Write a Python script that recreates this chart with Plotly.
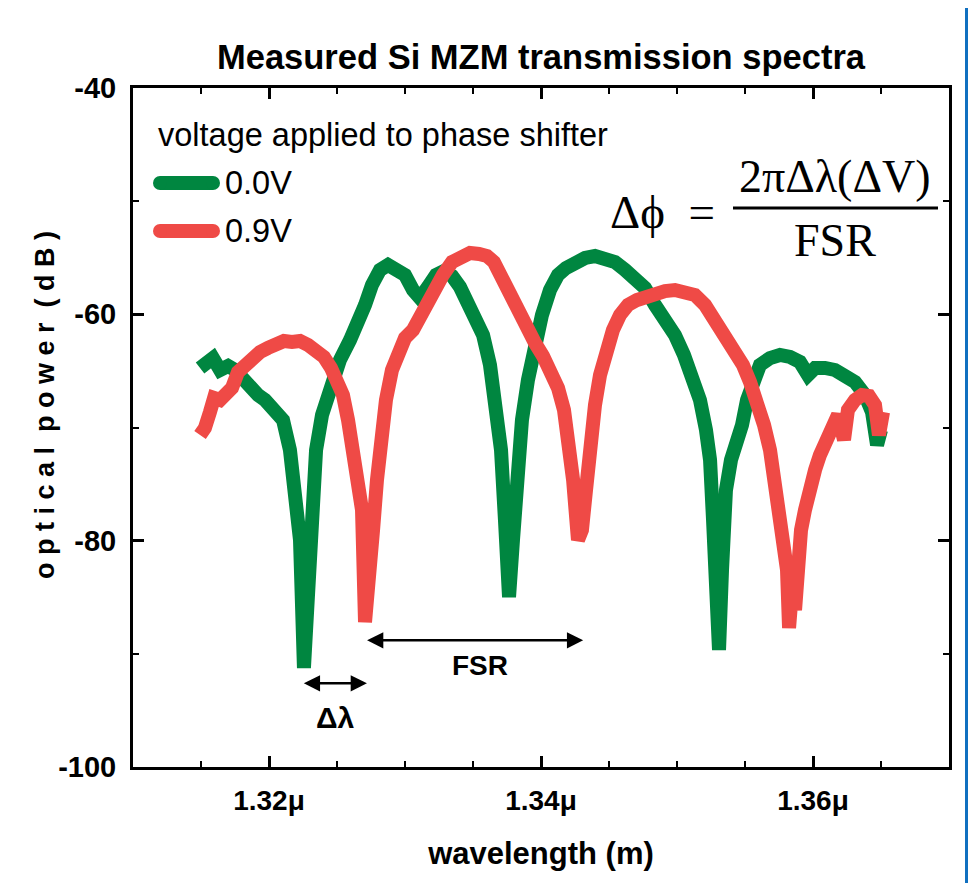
import plotly.graph_objects as go

# ---------------- data ----------------
# wavelength in nm, optical power in dB
wl_green = [1314.93, 1315.44, 1315.88, 1316.40, 1316.99, 1317.50, 1318.01, 1318.60, 1319.19, 1319.71,
            1320.44, 1321.03, 1321.54, 1321.99, 1322.28, 1322.57, 1322.87, 1323.16, 1323.46, 1323.90,
            1324.49, 1325.22, 1325.96, 1326.54, 1327.06, 1327.57, 1328.16, 1328.75, 1329.34, 1330.00,
            1330.59, 1331.10, 1331.69, 1332.28, 1332.87, 1333.46, 1334.04, 1334.63, 1335.22, 1335.74,
            1336.25, 1336.69, 1337.06, 1337.35, 1337.65, 1337.94, 1338.24, 1338.60, 1339.04, 1339.56,
            1340.07, 1340.66, 1341.25, 1341.84, 1342.50, 1343.24, 1343.97, 1344.71, 1345.44, 1346.18,
            1346.91, 1347.65, 1348.38, 1349.12, 1349.85, 1350.51, 1351.10, 1351.69, 1352.13, 1352.43,
            1352.65, 1352.87, 1353.09, 1353.31, 1353.60, 1353.97, 1354.41, 1354.78, 1355.15, 1355.59,
            1356.10, 1356.84, 1357.57, 1358.31, 1359.04, 1359.63, 1360.15, 1360.88, 1361.62, 1362.35,
            1363.09, 1363.82, 1364.34, 1364.71, 1365.00]
db_green = [-64.74, -64.21, -63.86, -64.92, -64.56, -64.92, -65.63, -66.69, -67.13, -67.57,
            -68.45, -69.34, -71.99, -76.41, -79.94, -91.25, -83.47, -76.41, -71.99, -68.89,
            -66.24, -64.03, -62.27, -60.94, -59.17, -57.41, -56.08, -55.64, -55.91, -56.52,
            -57.85, -58.56, -57.58, -56.52, -56.17, -56.61, -57.58, -58.91, -60.06, -61.83,
            -64.48, -67.57, -71.99, -78.17, -84.98, -79.94, -73.75, -69.34, -65.80, -62.71,
            -60.06, -57.85, -56.52, -55.91, -55.38, -55.02, -54.85, -55.02, -55.38, -56.08,
            -56.79, -57.67, -59.17, -60.32, -61.83, -63.59, -65.36, -67.57, -70.22, -72.87,
            -78.17, -83.47, -89.66, -82.59, -75.52, -72.87, -71.55, -69.78, -67.57, -65.63,
            -64.48, -63.86, -63.59, -63.77, -64.21, -65.36, -64.74, -64.74, -64.92, -65.45,
            -65.98, -67.13, -68.63, -71.55, -70.22]

wl_red = [1314.93, 1315.29, 1315.66, 1315.96, 1316.40, 1316.84, 1317.28, 1317.72, 1318.24, 1318.75,
          1319.34, 1319.93, 1320.51, 1321.10, 1321.69, 1322.28, 1322.87, 1323.46, 1324.04, 1324.56,
          1325.00, 1325.44, 1325.81, 1326.18, 1326.54, 1326.84, 1327.06, 1327.35, 1327.65, 1327.94,
          1328.24, 1328.60, 1329.04, 1329.49, 1330.00, 1330.59, 1331.10, 1331.62, 1332.21, 1332.79,
          1333.46, 1334.12, 1334.78, 1335.44, 1336.03, 1336.54, 1336.99, 1337.50, 1338.01, 1338.53,
          1339.04, 1339.56, 1340.15, 1340.74, 1341.25, 1341.69, 1342.06, 1342.36, 1342.72, 1343.01,
          1343.31, 1343.60, 1343.97, 1344.34, 1344.78, 1345.29, 1345.81, 1346.40, 1347.06, 1347.65,
          1348.38, 1349.12, 1349.85, 1350.59, 1351.32, 1352.06, 1352.65, 1353.16, 1353.75, 1354.34,
          1354.85, 1355.37, 1355.88, 1356.40, 1356.84, 1357.21, 1357.57, 1357.87, 1358.09, 1358.24,
          1358.46, 1358.68, 1358.90, 1359.12, 1359.41, 1359.78, 1360.15, 1360.51, 1360.96, 1361.40,
          1361.84, 1362.28, 1362.57, 1363.09, 1363.60, 1364.12, 1364.56, 1364.85, 1365.15]
db_red = [-70.66, -70.04, -68.63, -67.39, -67.57, -66.86, -66.51, -65.10, -64.48, -63.86,
          -63.33, -62.97, -62.71, -62.36, -62.44, -62.36, -62.71, -63.15, -63.77, -64.74,
          -65.98, -67.13, -69.34, -72.43, -74.64, -77.29, -87.19, -84.36, -79.06, -74.64,
          -71.10, -67.57, -64.92, -63.15, -62.09, -61.38, -60.15, -59.17, -57.85, -56.52,
          -55.38, -54.85, -54.58, -54.67, -54.85, -55.38, -56.52, -57.85, -59.00, -60.32,
          -61.56, -62.53, -63.68, -64.92, -66.51, -68.45, -71.10, -74.64, -79.94, -79.06,
          -75.52, -71.10, -68.01, -65.36, -63.15, -61.38, -60.06, -59.17, -58.73, -58.47,
          -58.20, -57.94, -57.85, -57.94, -58.29, -59.17, -60.32, -61.21, -62.27, -63.33,
          -64.48, -65.98, -67.57, -69.78, -71.99, -74.64, -77.29, -79.94, -82.59, -87.72,
          -84.36, -86.13, -81.71, -79.06, -77.29, -75.08, -73.75, -72.43, -71.10, -69.78,
          -68.89, -71.10, -68.45, -67.57, -67.13, -67.22, -68.01, -70.66, -68.63]

series_names = ["0.0V", "0.9V"]
x_tick_vals = [1320, 1340, 1360]
x_tick_text = ["1.32μ", "1.34μ", "1.36μ"]
y_tick_vals = [-100, -80, -60, -40]
y_tick_text = ["-100", "-80", "-60", "-40"]
fsr_span = [1327.1, 1343.1]
fsr_level = -88.8
dl_span = [1322.45, 1327.2]
dl_level = -92.6

# ---------------- styling ----------------
GREEN = "rgb(0,134,64)"
RED = "rgb(239,74,70)"
SANS = "Liberation Sans, Arial, sans-serif"
SERIF = "Liberation Serif, Times New Roman, DejaVu Serif, serif"

OFF = 8                      # page body margin offset
W, H = 976 - OFF, 891 - 2 * OFF
L, R, T, B = 133 - OFF, 949 - OFF, 88 - OFF, 767 - OFF


def px(x):
    """page x (reference pixel) -> paper fraction"""
    return (x - OFF - L) / (R - L)


def py(y):
    """page y (reference pixel) -> paper fraction"""
    return (B - (y - OFF)) / (B - T)


fig = go.Figure()
fig.add_trace(go.Scatter(x=wl_green, y=db_green, mode="lines", name=series_names[0],
                         line=dict(color=GREEN, width=14), showlegend=False))
fig.add_trace(go.Scatter(x=wl_red, y=db_red, mode="lines", name=series_names[1],
                         line=dict(color=RED, width=14), showlegend=False))

axis_common = dict(showline=True, linecolor="black", linewidth=3, mirror="ticks",
                   ticks="inside", ticklen=11, tickwidth=2.5, tickcolor="black",
                   showgrid=False, zeroline=False)

fig.update_xaxes(range=[1310, 1370], tickvals=x_tick_vals, ticktext=x_tick_text,
                 tickfont=dict(family=SANS, size=28, color="black", weight="bold"),
                 ticklabelstandoff=6,
                 minor=dict(dtick=5, tick0=1310, ticks="inside", ticklen=6, tickwidth=2, tickcolor="black"),
                 title=dict(text="wavelength (m)", standoff=28,
                            font=dict(family=SANS, size=31, color="black", weight="bold")),
                 **axis_common)

fig.update_yaxes(range=[-100, -40], tickvals=y_tick_vals, ticktext=y_tick_text,
                 tickfont=dict(family=SANS, size=29, color="black", weight="bold"),
                 ticklabelstandoff=8,
                 minor=dict(dtick=10, tick0=-100, ticks="inside", ticklen=6, tickwidth=2, tickcolor="black"),
                 **axis_common)

NB = "\u00a0"
ytitle = (NB * 2).join(NB.join(list(w)) for w in ["optical", "power", "(dB)"])

annotations = []
shapes = []

# y-axis title (letter-spaced, placed as in the source)
annotations.append(dict(xref="paper", yref="paper", x=px(45), y=py(405), xanchor="center", yanchor="middle",
                        text=ytitle, textangle=-90, showarrow=False,
                        font=dict(family=SANS, size=27, color="black", weight="bold")))

# legend header and entries
annotations.append(dict(xref="paper", yref="paper", x=px(156), y=py(135), xanchor="left", yanchor="middle",
                        text="voltage applied to phase shifter", showarrow=False,
                        font=dict(family=SANS, size=32.5, color="black")))
for name, col, yy in [(series_names[0], GREEN, 183), (series_names[1], RED, 231)]:
    shapes.append(dict(type="line", xref="paper", yref="paper", x0=px(160), x1=px(213), y0=py(yy), y1=py(yy),
                       line=dict(color=col, width=14)))
    for cx in (160, 213):
        shapes.append(dict(type="circle", xref="paper", yref="paper", x0=px(cx - 7), x1=px(cx + 7),
                           y0=py(yy + 7), y1=py(yy - 7), fillcolor=col, line=dict(width=0)))
    annotations.append(dict(xref="paper", yref="paper", x=px(223), y=py(yy), xanchor="left", yanchor="middle",
                            text=name, showarrow=False, font=dict(family=SANS, size=32.5, color="black")))

# formula
annotations.append(dict(xref="paper", yref="paper", x=px(662), y=py(212), xanchor="center", yanchor="middle",
                        text="Δϕ" + NB * 2 + "=", showarrow=False, font=dict(family=SERIF, size=47, color="black")))
annotations.append(dict(xref="paper", yref="paper", x=px(835), y=py(176), xanchor="center", yanchor="middle",
                        text="2πΔλ(ΔV)", showarrow=False, font=dict(family=SERIF, size=46, color="black")))
annotations.append(dict(xref="paper", yref="paper", x=px(835), y=py(241), xanchor="center", yanchor="middle",
                        text="FSR", showarrow=False, font=dict(family=SERIF, size=46, color="black")))
shapes.append(dict(type="line", xref="paper", yref="paper", x0=px(733), x1=px(938), y0=py(208), y1=py(208),
                   line=dict(color="black", width=3)))

# FSR and delta-lambda double arrows
for span, level in [(fsr_span, fsr_level), (dl_span, dl_level)]:
    annotations.append(dict(xref="x", yref="y", axref="x", ayref="y", x=span[1], y=level, ax=span[0], ay=level,
                            text="", showarrow=True, arrowside="end+start", arrowhead=2, arrowsize=1.3,
                            arrowwidth=2.5, arrowcolor="black", standoff=0, startstandoff=0))
annotations.append(dict(xref="paper", yref="paper", x=px(480), y=py(665), xanchor="center", yanchor="middle",
                        text="FSR", showarrow=False,
                        font=dict(family=SANS, size=28, color="black", weight="bold")))
annotations.append(dict(xref="paper", yref="paper", x=px(335), y=py(717), xanchor="center", yanchor="middle",
                        text="Δλ", showarrow=False,
                        font=dict(family=SANS, size=30, color="black", weight="bold")))

# decorative blue frame strip from the source slide
shapes.append(dict(type="rect", xref="paper", yref="paper", x0=px(965), x1=px(980), y0=py(900), y1=py(-10),
                   fillcolor="rgb(16,112,192)", line=dict(width=0), layer="above"))

fig.update_layout(
    width=W, height=H, autosize=False,
    margin=dict(l=L, r=W - R, t=T, b=H - B, pad=0),
    paper_bgcolor="white", plot_bgcolor="white",
    title=dict(text="Measured Si MZM transmission spectra", x=px(541), xref="paper", xanchor="center",
               y=1 - (57 - OFF) / H, yref="container", yanchor="middle",
               font=dict(family=SANS, size=34.5, color="black", weight="bold")),
    annotations=annotations, shapes=shapes,
)

fig.write_html("out.html")
